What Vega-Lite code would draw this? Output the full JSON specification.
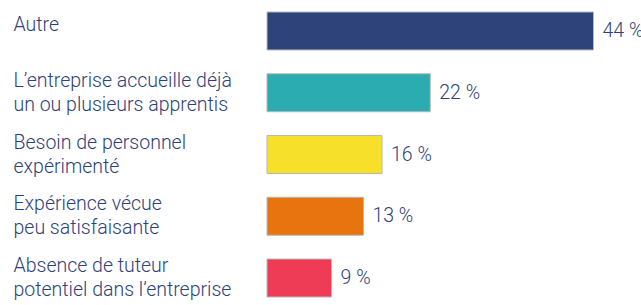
{
  "$schema": "https://vega.github.io/schema/vega-lite/v6.json",
  "width": 374,
  "height": 285,
  "autosize": {"type": "none"},
  "padding": {"left": 267, "top": 12, "right": 0, "bottom": 8},
  "background": "white",
  "config": {"view": {"stroke": null}, "font": "Roboto"},
  "data": {"values": [
    {"cat": "Autre", "value": 44, "label": "44 %", "color": "#2e4379"},
    {"cat": "L’entreprise accueille déjà|un ou plusieurs apprentis", "value": 22, "label": "22 %", "color": "#2aacb1"},
    {"cat": "Besoin de personnel|expérimenté", "value": 15.5, "label": "16 %", "color": "#f7e02a"},
    {"cat": "Expérience vécue|peu satisfaisante", "value": 13, "label": "13 %", "color": "#e8740f"},
    {"cat": "Absence de tuteur|potentiel dans l’entreprise", "value": 8.7, "label": "9 %", "color": "#ee3c57"}
  ]},
  "encoding": {
    "y": {"field": "cat", "type": "nominal", "sort": null,
      "scale": {"paddingInner": 0.385, "paddingOuter": 0},
      "axis": {"title": null, "domain": false, "ticks": false,
        "labelAlign": "left", "labelPadding": 254, "labelBaseline": "middle",
        "labelExpr": "split(datum.label, '|')", "labelLineHeight": 24,
        "labelOffset": {"condition": {"test": "datum.value == 'Autre'", "value": -6}, "value": -12},
        "labelFontSize": 19.5, "labelFontWeight": 300, "labelColor": "#2e3f7a", "labelLimit": 300,
        "labelFont": "Roboto"}}
  },
  "layer": [
    {"mark": {"type": "bar", "stroke": "#b8b8b8", "strokeWidth": 1},
     "encoding": {
       "x": {"field": "value", "type": "quantitative", "scale": {"domain": [0, 50.4], "nice": false}, "axis": null},
       "color": {"field": "color", "type": "nominal", "scale": null}
     }},
    {"mark": {"type": "text", "align": "left", "baseline": "middle", "dx": 9, "fontSize": 19.5, "fontWeight": 300, "color": "#2e3f7a", "font": "Roboto"},
     "encoding": {
       "x": {"field": "value", "type": "quantitative"},
       "text": {"field": "label"}
     }}
  ]
}
